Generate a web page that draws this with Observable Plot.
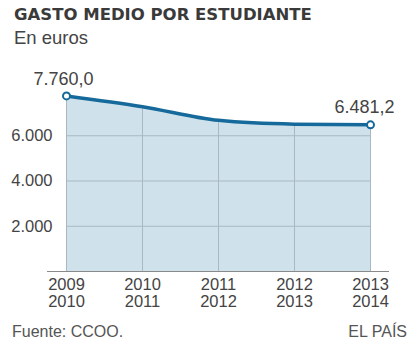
<!DOCTYPE html>
<html><head><meta charset="utf-8">
<script src="https://cdn.jsdelivr.net/npm/d3@7"></script>
<script src="https://cdn.jsdelivr.net/npm/@observablehq/plot@0.6"></script>
<style>
body{margin:0;background:#fff;font-family:"Liberation Sans",Arial,sans-serif;}
#wrap{position:relative;width:414px;height:345px;overflow:hidden;}
.t{position:absolute;white-space:nowrap;line-height:1;color:#444;}
</style></head>
<body><div id="wrap">
<div class="t" style="left:14px;top:7px;font-family:'DejaVu Sans',Verdana,sans-serif;font-size:16.5px;font-weight:bold;color:#3a3a3a;">GASTO MEDIO POR ESTUDIANTE</div>
<div class="t" style="left:14px;top:29px;font-size:18.5px;">En euros</div>
<div class="t" style="left:12px;top:324px;font-size:16px;color:#555;">Fuente: CCOO.</div>
<div class="t" style="right:7px;top:324px;font-size:16px;color:#555;">EL PAÍS</div>
</div>
<script>
const years = [2009, 2010, 2011, 2012, 2013];
const values = [7760.0, 7285, 6680, 6510, 6481.2];
const yTicks = [2000, 4000, 6000];

const data = years.map((y, i) => ({year: y, value: values[i]}));
const ends = [data[0], data[data.length - 1]];
const loc = d3.formatLocale({decimal: ",", thousands: ".", grouping: [3], currency: ["", "€"]});
const fInt = loc.format(",.0f");
const f1 = loc.format(",.1f");

const blue = "#16699b";
const chart = Plot.plot({
  width: 414, height: 345,
  marginTop: 90, marginBottom: 74, marginLeft: 47, marginRight: 25,
  style: {fontFamily: "'Liberation Sans', Arial, sans-serif", fontSize: "16px", color: "#444", background: "transparent"},
  x: {domain: [2008.75, 2013.25], label: null},
  y: {domain: [0, 8000], label: null},
  marks: [
    Plot.areaY(data, {x: "year", y: "value", curve: "monotone-x", fill: "#cfe2ec"}),
    Plot.ruleX(data, {x: "year", y1: 0, y2: "value", stroke: "#a9b8c2", strokeWidth: 1}),
    Plot.ruleY(yTicks, {x1: years[0], x2: years[years.length - 1], stroke: "#a9b8c2", strokeWidth: 1}),
    Plot.ruleY([0], {stroke: "#8a8a8a", strokeWidth: 1.2}),
    Plot.lineY(data, {x: "year", y: "value", curve: "monotone-x", stroke: blue, strokeWidth: 3.5}),
    Plot.dot(ends, {x: "year", y: "value", r: 3.5, fill: "white", stroke: blue, strokeWidth: 2}),
    Plot.text([ends[0]], {x: "year", y: "value", text: d => f1(d.value), lineAnchor: "bottom",
      dx: -3, dy: -11, fontSize: 18, fill: "#444"}),
    Plot.text([ends[1]], {x: "year", y: "value", text: d => f1(d.value), lineAnchor: "bottom",
      dx: -6, dy: -12, fontSize: 18, fill: "#444"}),
    Plot.axisY(yTicks, {tickSize: 0, tickPadding: 0, dx: 5, tickFormat: fInt, fontSize: 16.5, fill: "#444", label: null}),
    Plot.axisX(years, {tickSize: 0, tickPadding: 7, tickFormat: d => `${d}\n${d + 1}`, fontSize: 16.5, lineHeight: 1.02, fill: "#444", lineAnchor: "top", label: null})
  ]
});
chart.style.position = "absolute";
chart.style.left = "0"; chart.style.top = "0";
document.getElementById("wrap").appendChild(chart);
</script>
</body></html>
